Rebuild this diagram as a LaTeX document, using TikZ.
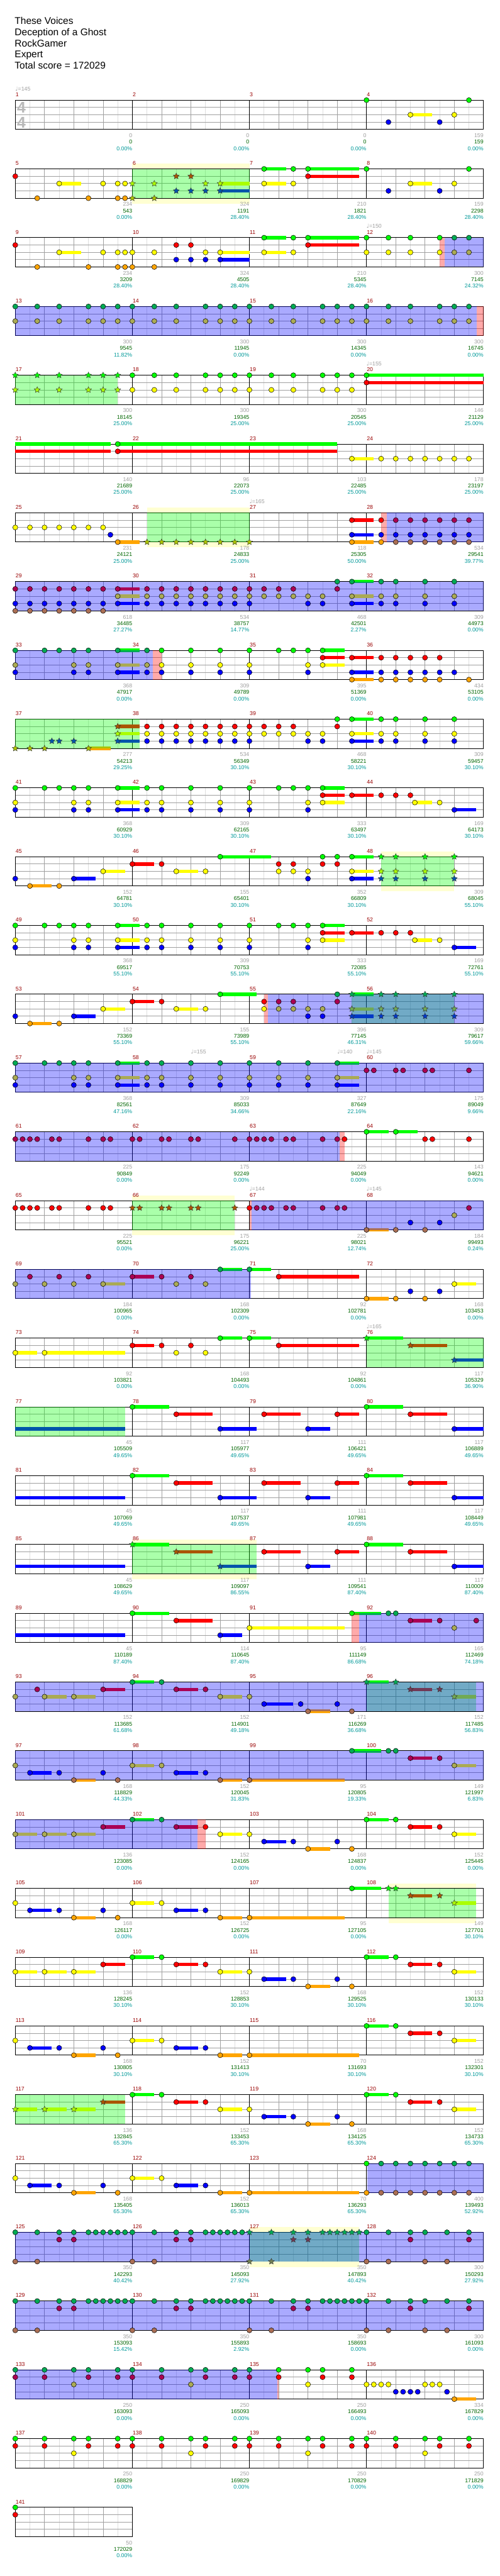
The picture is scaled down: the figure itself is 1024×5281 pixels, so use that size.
\documentclass[tikz,border=0pt]{standalone}
\usepackage{fontspec}
\setmainfont{Liberation Sans}
\newfontfamily\notefont{DejaVu Sans}
\usetikzlibrary{shapes.geometric}
\pgfdeclarelayer{zone}
\pgfdeclarelayer{front}
\pgfsetlayers{main,zone,front}

% lane colours: green, red, yellow, blue, orange
\definecolor{lc0}{RGB}{0,255,0}
\definecolor{lc1}{RGB}{255,0,0}
\definecolor{lc2}{RGB}{255,255,0}
\definecolor{lc3}{RGB}{0,0,255}
\definecolor{lc4}{RGB}{255,165,0}
\definecolor{phrasey}{RGB}{255,255,210}
\definecolor{gridgray}{RGB}{160,160,160}
\definecolor{gridlight}{RGB}{222,222,222}
\definecolor{mred}{RGB}{153,0,0}
\definecolor{numgray}{RGB}{160,160,160}
\definecolor{siggray}{RGB}{185,185,185}
\definecolor{scoregreen}{RGB}{0,102,0}
\definecolor{pctteal}{RGB}{0,153,153}

\tikzset{
  eighthline/.style={draw=gridlight, line width=0.75pt},
  beatline/.style={draw=gridgray, line width=0.75pt},
  laneline/.style={draw=gridgray, line width=0.75pt},
  barline/.style={draw=black, line width=0.75pt},
  frameline/.style={draw=black, line width=0.9pt},
  sustain/.style={line width=5.2pt},
  dotnote/.style={circle, draw=black, line width=0.5pt, inner sep=0pt, minimum size=7.8pt},
  starnote/.style={star, star points=5, star point ratio=2.1, draw=black!80, line width=0.45pt, inner sep=0pt, minimum size=9.6pt},
  smalltext/.style={font=\fontsize{8.5}{10}\selectfont, inner sep=0pt},
  mnum/.style={smalltext, text=mred, anchor=base west},
  gnum/.style={smalltext, text=numgray, anchor=base east},
  snum/.style={smalltext, text=scoregreen, anchor=base east},
  pnum/.style={smalltext, text=pctteal, anchor=base east},
  tempotext/.style={smalltext, text=numgray, anchor=base west},
  timesig/.style={font=\bfseries\fontsize{24}{24}\selectfont, text=siggray, inner sep=0pt},
  titletext/.style={font=\fontsize{15}{18}\selectfont, anchor=base west, inner sep=0pt}
}

% one staff of #1 measures, 15 units per sixteenth
\newcommand{\staffgrid}[1]{%
  \pgfmathtruncatemacro{\neig}{8*#1-1}%
  \pgfmathtruncatemacro{\nqua}{4*#1-1}%
  \foreach \i in {1,...,\neig} \draw[eighthline] (30*\i,0) -- (30*\i,60);
  \foreach \i in {1,...,\nqua} \draw[beatline] (60*\i,0) -- (60*\i,60);
  \foreach \j in {1,2,3} \draw[laneline] (0,15*\j) -- (240*#1,15*\j);
  \ifnum#1>1
    \pgfmathtruncatemacro{\nmea}{#1-1}%
    \foreach \i in {1,...,\nmea} \draw[barline] (240*\i,0) -- (240*\i,60);
  \fi
  \draw[frameline] (0,0) rectangle (240*#1,60);
}

% a note at sixteenth #1 on lane #2, tinted by the zones
\newcommand{\noteat}[2]{%
  \colorlet{nfill}{lc#2}%
  \pgfmathparse{(#1>=\gA)&&(#1<=\gB)}\let\instar\pgfmathresult
  \ifdim\instar pt>0.5pt \colorlet{nfill}{nfill!67!lc0}\fi
  \pgfmathparse{(#1>=\bA)&&(#1<=\bB)}%
  \ifdim\pgfmathresult pt>0.5pt \colorlet{nfill}{nfill!67!lc3}\fi
  \ifdim\instar pt>0.5pt
    \node[starnote, fill=nfill] at (15*#1,15*#2) {};
  \else
    \node[dotnote, fill=nfill] at (15*#1,15*#2) {};
  \fi
}
\newcommand{\lanenotes}[2]{\begin{pgfonlayer}{front}\foreach \np in {#2}{\noteat{\np}{#1}}\end{pgfonlayer}}
\newcommand{\sustains}[1]{\foreach \susp/\susl/\suse in {#1}{\draw[sustain, draw=lc\susl] (15*\susp,15*\susl) -- (15*\suse,15*\susl);}}
\newcommand{\starzone}[2]{\def\gA{#1}\def\gB{#2}\begin{pgfonlayer}{zone}\fill[lc0, opacity=0.333] (15*#1,0) rectangle (15*#2,60);\end{pgfonlayer}}
\newcommand{\actzone}[2]{\def\bA{#1}\def\bB{#2}\begin{pgfonlayer}{zone}\fill[lc3, opacity=0.333] (15*#1,0) rectangle (15*#2,60);\end{pgfonlayer}}
\newcommand{\pinkzone}[2]{\begin{pgfonlayer}{zone}\fill[lc1, opacity=0.333] (15*#1,0) rectangle (15*#2,60);\end{pgfonlayer}}
\newcommand{\phrasebg}[2]{\fill[phrasey] (15*#1,-10.5) rectangle (15*#2,-0.6); \fill[phrasey] (15*#1,60.6) rectangle (15*#2,71);}
\newcommand{\tempomark}[2]{\node[tempotext] at (15*#1,-19.6) {{\notefont ♩}=#2};}
\newcommand{\measuretexts}[1]{\foreach \mk/\mg/\ms/\mpct in {#1}{%
  \pgfmathtruncatemacro{\measno}{4*\rowidx+\mk+1}%
  \node[mnum] at (240*\mk+0.5,-7.6) {\measno};
  \node[gnum] at (240*\mk+240,76.4) {\mg};
  \node[snum] at (240*\mk+240,89.7) {\ms};
  \node[pnum] at (240*\mk+240,103) {\mpct\%};}}

\newenvironment{chartrow}[2]{%
  \begin{scope}[shift={(31.3,205.3+141*#1)}]%
  \def\rowidx{#1}%
  \def\gA{-99}\def\gB{-99}\def\bA{-99}\def\bB{-99}%
  \staffgrid{#2}}{\end{scope}}

\begin{document}
\begin{tikzpicture}[x=0.75pt, y=-0.75pt]
\fill[white] (0,0) rectangle (1024,5281);
\useasboundingbox (0,0) rectangle (1024,5281);

% Song header
\node[titletext] (songname) at (30,49.3) {These Voices};
\node[titletext] (bandname) at (30,72.4) {Deception of a Ghost};
\node[titletext] (chartername) at (30,95.5) {RockGamer};
\node[titletext] (difficulty) at (30,118.6) {Expert};
\node[titletext] (totalscore) at (30,141.7) {Total score = 172029};

% Measures 1-4
\begin{chartrow}{0}{4}
  \node[timesig] (sigtop) at (12.5,15.5) {4};
  \node[timesig] (sigbottom) at (12.5,45.5) {4};
  \sustains{54/2/57}
  \lanenotes{0}{48,62}
  \lanenotes{2}{54,60}
  \lanenotes{3}{51,58}
  \tempomark{0}{145}
  \measuretexts{0/0/0/0.00, 1/0/0/0.00, 2/0/0/0.00, 3/159/159/0.00}
\end{chartrow}

% Measures 5-8
\begin{chartrow}{1}{4}
  \phrasebg{16}{32}
  \starzone{16}{32}
  \sustains{6/2/9, 28/2/32, 28/3/32, 34/0/37, 40/0/47, 40/1/47, 34/2/37, 54/2/57}
  \lanenotes{0}{34,38,40,48,62}
  \lanenotes{1}{0,22,24,40}
  \lanenotes{2}{6,12,14,15,16,19,26,28,34,38,54,60}
  \lanenotes{3}{22,24,26,28,51,58}
  \lanenotes{4}{3,10,14,15,16,19}
  \measuretexts{0/234/543/0.00, 1/324/1191/28.40, 2/210/1821/28.40, 3/159/2298/28.40}
\end{chartrow}

% Measures 9-12
\begin{chartrow}{2}{4}
  \pinkzone{58}{58.7}
  \actzone{58.7}{64}
  \sustains{6/2/9, 28/2/32, 28/3/32, 34/0/37, 40/0/47, 40/1/47, 34/2/37}
  \lanenotes{0}{34,38,40,48,51,54,58,60,62}
  \lanenotes{1}{0,22,24,40}
  \lanenotes{2}{6,12,14,15,16,19,26,28,34,38,48,51,54,58,60,62}
  \lanenotes{3}{22,24,26,28}
  \lanenotes{4}{3,10,14,15,16,19}
  \tempomark{48}{150}
  \measuretexts{0/234/3209/28.40, 1/324/4505/28.40, 2/210/5345/28.40, 3/300/7145/24.32}
\end{chartrow}

% Measures 13-16
\begin{chartrow}{3}{4}
  \actzone{0}{63.1}
  \pinkzone{63.1}{64}
  \lanenotes{0}{0,3,6,10,12,14,16,19,22,26,28,30,32,35,38,42,44,46,48,51,54,58,60,62}
  \lanenotes{2}{0,3,6,10,12,14,16,19,22,26,28,30,32,35,38,42,44,46,48,51,54,58,60,62}
  \measuretexts{0/300/9545/11.82, 1/300/11945/0.00, 2/300/14345/0.00, 3/300/16745/0.00}
\end{chartrow}

% Measures 17-20
\begin{chartrow}{4}{4}
  \starzone{0}{14}
  \sustains{48/0/64, 48/1/64}
  \lanenotes{0}{0,3,6,10,12,14,16,19,22,26,28,30,32,35,38,42,44,46,48}
  \lanenotes{1}{48}
  \lanenotes{2}{0,3,6,10,12,14,16,19,22,26,28,30,32,35,38,42,44,46}
  \tempomark{48}{155}
  \measuretexts{0/300/18145/25.00, 1/300/19345/25.00, 2/300/20545/25.00, 3/146/21129/25.00}
\end{chartrow}

% Measures 21-24
\begin{chartrow}{5}{4}
  \sustains{0/0/13, 0/1/13, 14/0/44, 14/1/44, 46/2/49}
  \lanenotes{0}{14}
  \lanenotes{1}{14}
  \lanenotes{2}{46,50,52,54,56,58,60,62}
  \measuretexts{0/140/21689/25.00, 1/96/22073/25.00, 2/103/22485/25.00, 3/178/23197/25.00}
\end{chartrow}

% Measures 25-28
\begin{chartrow}{6}{4}
  \phrasebg{18}{32}
  \starzone{18}{32}
  \pinkzone{50}{50.8}
  \actzone{50.8}{64}
  \sustains{14/4/17, 46/1/49, 46/3/49, 46/4/49}
  \lanenotes{1}{46,50,52,54,56,58,60,62}
  \lanenotes{2}{0,2,4,6,8,10,12}
  \lanenotes{3}{13,46,50,52,54,56,58,60,62}
  \lanenotes{4}{14,18,20,22,24,26,28,30,32,46,50,52,54,56,58,60,62}
  \tempomark{32}{165}
  \measuretexts{0/231/24121/25.00, 1/178/24833/25.00, 2/118/25305/50.00, 3/534/29541/39.77}
\end{chartrow}

% Measures 29-32
\begin{chartrow}{7}{4}
  \actzone{0}{64}
  \sustains{14/1/17, 14/2/17, 14/3/17, 46/0/49, 46/2/49, 46/3/49}
  \lanenotes{0}{44,46,50,52,56,60}
  \lanenotes{1}{0,2,4,6,8,10,12,14,18,20,22,24,26,28,30,32,34,36,38,44}
  \lanenotes{2}{14,18,20,22,24,26,28,30,32,34,36,38,40,42,46,50,52,56,60}
  \lanenotes{3}{0,2,4,6,8,10,12,14,18,20,22,24,26,28,30,32,40,42,46,50,52,56,60}
  \lanenotes{4}{0,2,4,6,8,10,12}
  \measuretexts{0/618/34485/27.27, 1/534/38757/14.77, 2/468/42501/2.27, 3/309/44973/0.00}
\end{chartrow}

% Measures 33-36
\begin{chartrow}{8}{4}
  \actzone{0}{18.8}
  \pinkzone{18.8}{20}
  \sustains{14/0/17, 14/2/17, 14/3/17, 42/0/45, 42/1/45, 42/2/45, 46/1/49, 46/3/49, 46/4/49}
  \lanenotes{0}{0,4,6,8,10,14,18,20,24,28,32,36,38,40,42}
  \lanenotes{1}{42,46,50,52,54,56,58}
  \lanenotes{2}{0,8,10,14,18,20,24,28,32,40,42}
  \lanenotes{3}{0,8,10,14,18,20,24,28,32,40,46,50,52,54,56,58,60}
  \lanenotes{4}{46,50,52,54,56,58,62}
  \measuretexts{0/368/47917/0.00, 1/309/49789/0.00, 2/395/51369/0.00, 3/434/53105/0.00}
\end{chartrow}

% Measures 37-40
\begin{chartrow}{9}{4}
  \starzone{0}{17}
  \sustains{10/4/13, 14/1/17, 14/2/17, 14/3/17, 46/0/49, 46/2/49, 46/3/49}
  \lanenotes{0}{44,46,50,52,56,60}
  \lanenotes{1}{14,18,20,22,24,26,28,30,32,34,36,38,44}
  \lanenotes{2}{14,18,20,22,24,26,28,30,32,34,36,38,40,42,46,50,52,56,60}
  \lanenotes{3}{5,6,8,14,18,20,22,24,26,28,30,32,40,42,46,50,52,56,60}
  \lanenotes{4}{0,2,4,10}
  \measuretexts{0/277/54213/29.25, 1/534/56349/30.10, 2/468/58221/30.10, 3/309/59457/30.10}
\end{chartrow}

% Measures 41-44
\begin{chartrow}{10}{4}
  \sustains{14/0/17, 14/2/17, 14/3/17, 42/0/45, 42/1/45, 42/2/45, 46/1/49, 54.6/2/57, 60/3/63}
  \lanenotes{0}{0,4,6,8,10,14,18,20,24,28,32,36,38,40,42}
  \lanenotes{1}{42,46,50,52,54}
  \lanenotes{2}{0,8,10,14,18,20,24,28,32,40,42,54.6,58}
  \lanenotes{3}{0,8,10,14,18,20,24,28,32,40,60}
  \measuretexts{0/368/60929/30.10, 1/309/62165/30.10, 2/333/63497/30.10, 3/169/64173/30.10}
\end{chartrow}

% Measures 45-48
\begin{chartrow}{11}{4}
  \phrasebg{50}{60}
  \starzone{50}{60}
  \sustains{28/0/35, 46/0/49, 16/1/19, 12/2/15, 22/2/25, 46/2/49, 8/3/11, 46/3/49, 2/4/5}
  \lanenotes{0}{28,42,44,46,50,52,56,60}
  \lanenotes{1}{16,20,36,38,42,44}
  \lanenotes{2}{12,22,26,36,38,40,46,50,52,56,60}
  \lanenotes{3}{0,8,40,46,50,52,56,60}
  \lanenotes{4}{2,6}
  \measuretexts{0/152/64781/30.10, 1/155/65401/30.10, 2/352/66809/30.10, 3/309/68045/55.10}
\end{chartrow}

% Measures 49-52
\begin{chartrow}{12}{4}
  \sustains{14/0/17, 14/2/17, 14/3/17, 42/0/45, 42/1/45, 42/2/45, 46/1/49, 54.6/2/57, 60/3/63}
  \lanenotes{0}{0,4,6,8,10,14,18,20,24,28,32,36,38,40,42}
  \lanenotes{1}{42,46,50,52,54}
  \lanenotes{2}{0,8,10,14,18,20,24,28,32,40,42,54.6,58}
  \lanenotes{3}{0,8,10,14,18,20,24,28,32,40,60}
  \measuretexts{0/368/69517/55.10, 1/309/70753/55.10, 2/333/72085/55.10, 3/169/72761/55.10}
\end{chartrow}

% Measures 53-56
\begin{chartrow}{13}{4}
  \pinkzone{34}{34.5}
  \starzone{46}{60}
  \actzone{34.5}{64}
  \sustains{28/0/33, 46/0/49, 16/1/19, 12/2/15, 22/2/25, 46/2/49, 8/3/11, 46/3/49, 2/4/5}
  \lanenotes{0}{28,44,46,50,52,56,60}
  \lanenotes{1}{16,20,34,36,38,44}
  \lanenotes{2}{12,22,26,34,36,38,40,42,46,50,52,56,60}
  \lanenotes{3}{0,8,40,42,46,50,52,56,60}
  \lanenotes{4}{2,6}
  \measuretexts{0/152/73369/55.10, 1/155/73989/55.10, 2/396/77145/46.31, 3/309/79617/59.66}
\end{chartrow}

% Measures 57-60
\begin{chartrow}{14}{4}
  \actzone{0}{64}
  \sustains{14/0/17, 14/2/17, 14/3/17, 44/0/47, 44/2/47, 44/3/47}
  \lanenotes{0}{0,4,6,8,10,14,18,20,24,28,32,36,40,44}
  \lanenotes{1}{48,49,52,53,56,57,62}
  \lanenotes{2}{0,8,10,14,18,20,24,28,32,36,40,44}
  \lanenotes{3}{0,8,10,14,18,20,24,28,32,36,40,44}
  \tempomark{24}{155}
  \tempomark{44}{140}
  \tempomark{48}{145}
  \measuretexts{0/368/82561/47.16, 1/309/85033/34.66, 2/327/87649/22.16, 3/175/89049/9.66}
\end{chartrow}

% Measures 61-64
\begin{chartrow}{15}{4}
  \actzone{0}{44.3}
  \pinkzone{44.3}{45}
  \sustains{48/0/51, 52/0/55}
  \lanenotes{0}{48,52}
  \lanenotes{1}{0,1,2,3,5,6,10,12,13,16,17,20,21,24,25,30,32,33,34,35,37,38,42,44,45,56,57,62}
  \measuretexts{0/225/90849/0.00, 1/175/92249/0.00, 2/225/94049/0.00, 3/143/94621/0.00}
\end{chartrow}

% Measures 65-68
\begin{chartrow}{16}{4}
  \phrasebg{16}{30}
  \starzone{16}{30}
  \pinkzone{32}{32.3}
  \actzone{32.3}{64}
  \sustains{48/4/51}
  \lanenotes{1}{0,1,2,3,5,6,10,12,13,16,17,20,21,24,25,30,32,33,34,35,37,38,42,44,45,62}
  \lanenotes{2}{60}
  \lanenotes{3}{54,58}
  \lanenotes{4}{48,52,56}
  \tempomark{32}{144}
  \tempomark{48}{145}
  \measuretexts{0/225/95521/0.00, 1/175/96221/25.00, 2/225/98021/12.74, 3/184/99493/0.24}
\end{chartrow}

% Measures 69-72
\begin{chartrow}{17}{4}
  \actzone{0}{32.2}
  \sustains{28/0/31, 32/0/35, 16/1/19, 36/1/47, 12/2/15, 60/2/63, 48/4/51}
  \lanenotes{0}{28,32}
  \lanenotes{1}{2,6,10,16,20,24,36}
  \lanenotes{2}{0,4,8,12,22,26,60}
  \lanenotes{3}{54,58}
  \lanenotes{4}{48,52,56}
  \measuretexts{0/184/100965/0.00, 1/168/102309/0.00, 2/92/102781/0.00, 3/168/103453/0.00}
\end{chartrow}

% Measures 73-76
\begin{chartrow}{18}{4}
  \starzone{48}{64}
  \sustains{28/0/31, 32/0/35, 48/0/53, 16/1/19, 36/1/47, 54/1/59, 0/2/3, 4/2/15, 60/3/64}
  \lanenotes{0}{28,32,48}
  \lanenotes{1}{16,20,24,36,54}
  \lanenotes{2}{0,4,22,26}
  \lanenotes{3}{60}
  \tempomark{48}{165}
  \measuretexts{0/92/103821/0.00, 1/168/104493/0.00, 2/92/104861/0.00, 3/117/105329/36.90}
\end{chartrow}

% Measures 77-80
\begin{chartrow}{19}{4}
  \starzone{0}{15}
  \sustains{0/3/15, 16/0/21, 22/1/27, 28/3/33, 34/1/39, 40/3/43, 44/1/47, 48/0/53, 54/1/59, 60/3/64}
  \lanenotes{0}{16,48}
  \lanenotes{1}{22,34,44,54}
  \lanenotes{3}{28,40,60}
  \measuretexts{0/45/105509/49.65, 1/117/105977/49.65, 2/111/106421/49.65, 3/117/106889/49.65}
\end{chartrow}

% Measures 81-84
\begin{chartrow}{20}{4}
  \sustains{0/3/15, 16/0/21, 22/1/27, 28/3/33, 34/1/39, 40/3/43, 44/1/47, 48/0/53, 54/1/59, 60/3/64}
  \lanenotes{0}{16,48}
  \lanenotes{1}{22,34,44,54}
  \lanenotes{3}{28,40,60}
  \measuretexts{0/45/107069/49.65, 1/117/107537/49.65, 2/111/107981/49.65, 3/117/108449/49.65}
\end{chartrow}

% Measures 85-88
\begin{chartrow}{21}{4}
  \phrasebg{16}{33}
  \starzone{16}{33}
  \sustains{0/3/15, 16/0/21, 22/1/27, 28/3/33, 34/1/39, 40/3/43, 44/1/47, 48/0/53, 54/1/59, 60/3/64}
  \lanenotes{0}{16,48}
  \lanenotes{1}{22,34,44,54}
  \lanenotes{3}{28,40,60}
  \measuretexts{0/45/108629/49.65, 1/117/109097/86.55, 2/111/109541/87.40, 3/117/110009/87.40}
\end{chartrow}

% Measures 89-92
\begin{chartrow}{22}{4}
  \pinkzone{46}{47}
  \actzone{47}{64}
  \sustains{0/3/15, 16/0/21, 22/1/27, 28/3/31, 32/2/45, 46/0/50, 54/1/57}
  \lanenotes{0}{16,46,51,52}
  \lanenotes{1}{22,54,58,63}
  \lanenotes{2}{32,60}
  \lanenotes{3}{28}
  \measuretexts{0/45/110189/87.40, 1/114/110645/87.40, 2/95/111149/86.68, 3/165/112469/74.18}
\end{chartrow}

% Measures 93-96
\begin{chartrow}{23}{4}
  \starzone{48}{63}
  \actzone{0}{64}
  \sustains{16/0/19, 48/0/51, 12/1/15, 22/1/25, 54/1/57, 4/2/7, 8/2/11, 28/2/31, 60/2/63, 34/3/38, 40/4/43}
  \lanenotes{0}{16,20,48,52}
  \lanenotes{1}{3,12,22,26,54,58}
  \lanenotes{2}{0,4,8,28,32,60}
  \lanenotes{3}{34,39,44}
  \lanenotes{4}{40,46}
  \measuretexts{0/152/113685/61.68, 1/152/114901/49.18, 2/171/116269/36.68, 3/152/117485/56.83}
\end{chartrow}

% Measures 97-100
\begin{chartrow}{24}{4}
  \actzone{0}{64}
  \sustains{46/0/50, 54/1/57, 16/2/19, 60/2/63, 2/3/5, 22/3/25, 8/4/11, 28/4/31, 32/4/45}
  \lanenotes{0}{46,51,52}
  \lanenotes{1}{54,58}
  \lanenotes{2}{0,16,20,60}
  \lanenotes{3}{2,6,12,22,26}
  \lanenotes{4}{8,14,28,32}
  \measuretexts{0/168/118829/44.33, 1/152/120045/31.83, 2/95/120805/19.33, 3/149/121997/6.83}
\end{chartrow}

% Measures 101-104
\begin{chartrow}{25}{4}
  \actzone{0}{24.9}
  \pinkzone{24.9}{26}
  \sustains{16/0/19, 48/0/51, 12/1/15, 22/1/25, 54/1/57, 0/2/3, 4/2/7, 8/2/11, 28/2/31, 60/2/63, 34/3/37, 40/4/43}
  \lanenotes{0}{16,20,48,52}
  \lanenotes{1}{12,22,26,54,58}
  \lanenotes{2}{0,4,8,28,32,60}
  \lanenotes{3}{34,38,44}
  \lanenotes{4}{40,46}
  \measuretexts{0/136/123085/0.00, 1/152/124165/0.00, 2/168/124837/0.00, 3/152/125445/0.00}
\end{chartrow}

% Measures 105-108
\begin{chartrow}{26}{4}
  \phrasebg{51}{63}
  \starzone{51}{63}
  \sustains{46/0/50, 54/1/57, 16/2/19, 60/2/63, 2/3/5, 22/3/25, 8/4/11, 28/4/31, 32/4/45}
  \lanenotes{0}{46,51,52}
  \lanenotes{1}{54,58}
  \lanenotes{2}{0,16,20,60}
  \lanenotes{3}{2,6,12,22,26}
  \lanenotes{4}{8,14,28,32}
  \measuretexts{0/168/126117/0.00, 1/152/126725/0.00, 2/95/127105/0.00, 3/149/127701/30.10}
\end{chartrow}

% Measures 109-112
\begin{chartrow}{27}{4}
  \sustains{16/0/19, 48/0/51, 12/1/15, 22/1/25, 54/1/57, 0/2/3, 4/2/7, 8/2/11, 28/2/31, 60/2/63, 34/3/37, 40/4/43}
  \lanenotes{0}{16,20,48,52}
  \lanenotes{1}{12,22,26,54,58}
  \lanenotes{2}{0,4,8,28,32,60}
  \lanenotes{3}{34,38,44}
  \lanenotes{4}{40,46}
  \measuretexts{0/136/128245/30.10, 1/152/128853/30.10, 2/168/129525/30.10, 3/152/130133/30.10}
\end{chartrow}

% Measures 113-116
\begin{chartrow}{28}{4}
  \sustains{48/0/51, 54/1/57, 16/2/19, 60/2/63, 2/3/5, 22/3/25, 8/4/11, 28/4/31, 32/4/47}
  \lanenotes{0}{48,52}
  \lanenotes{1}{54,58}
  \lanenotes{2}{0,16,20,60}
  \lanenotes{3}{2,6,12,22,26}
  \lanenotes{4}{8,14,28,32}
  \measuretexts{0/168/130805/30.10, 1/152/131413/30.10, 2/70/131693/30.10, 3/152/132301/30.10}
\end{chartrow}

% Measures 117-120
\begin{chartrow}{29}{4}
  \starzone{0}{15}
  \sustains{16/0/19, 48/0/51, 12/1/15, 22/1/25, 54/1/57, 0/2/3, 4/2/7, 8/2/11, 28/2/31, 60/2/63, 34/3/37, 40/4/43}
  \lanenotes{0}{16,20,48,52}
  \lanenotes{1}{12,22,26,54,58}
  \lanenotes{2}{0,4,8,28,32,60}
  \lanenotes{3}{34,38,44}
  \lanenotes{4}{40,46}
  \measuretexts{0/136/132845/65.30, 1/152/133453/65.30, 2/168/134125/65.30, 3/152/134733/65.30}
\end{chartrow}

% Measures 121-124
\begin{chartrow}{30}{4}
  \actzone{48.15}{64}
  \sustains{16/2/19, 2/3/5, 22/3/25, 8/4/11, 28/4/31, 32/4/47}
  \lanenotes{0}{48,50,52,54,56,58,60,62}
  \lanenotes{2}{0,16,20}
  \lanenotes{3}{2,6,12,22,26}
  \lanenotes{4}{8,14,28,32,48,50,52,54,56,58,60,62}
  \measuretexts{0/168/135405/65.30, 1/152/136013/65.30, 2/70/136293/65.30, 3/400/139493/52.92}
\end{chartrow}

% Measures 125-128
\begin{chartrow}{31}{4}
  \phrasebg{32}{47}
  \starzone{32}{47}
  \actzone{0}{64}
  \lanenotes{0}{0,3,6,8,10,11,12,13,14,15,16,19,22,24,26,27,28,29,30,31,32,35,38,40,42,43,44,45,46,47,48,51,54,56,59,62}
  \lanenotes{1}{6,8,22,24,38,40,54,62}
  \lanenotes{4}{0,3,16,19,32,35,48,51,56,59}
  \measuretexts{0/350/142293/40.42, 1/350/145093/27.92, 2/350/147893/40.42, 3/300/150293/27.92}
\end{chartrow}

% Measures 129-132
\begin{chartrow}{32}{4}
  \actzone{0}{64}
  \lanenotes{0}{0,3,6,8,10,11,12,13,14,15,16,19,22,24,26,27,28,29,30,31,32,35,38,40,42,43,44,45,46,47,48,51,54,56,59,62}
  \lanenotes{1}{6,8,22,24,38,40,54,62}
  \lanenotes{4}{0,3,16,19,32,35,48,51,56,59}
  \measuretexts{0/350/153093/15.42, 1/350/155893/2.92, 2/350/158693/0.00, 3/300/161093/0.00}
\end{chartrow}

% Measures 133-136
\begin{chartrow}{33}{4}
  \actzone{0}{35.8}
  \pinkzone{35.8}{36}
  \sustains{60/4/63}
  \lanenotes{0}{0,4,8,10,14,16,20,24,26,30,32,36,40,42,46}
  \lanenotes{1}{0,4,10,14,16,20,26,30,32,36,42,46}
  \lanenotes{2}{8,24,40,48,49,50,51,56,57,58}
  \lanenotes{3}{52,53,54,55,59}
  \lanenotes{4}{60}
  \measuretexts{0/250/163093/0.00, 1/250/165093/0.00, 2/250/166493/0.00, 3/334/167829/0.00}
\end{chartrow}

% Measures 137-140
\begin{chartrow}{34}{4}
  \lanenotes{0}{0,4,8,10,14,16,20,24,26,30,32,36,40,42,46,48,52,56,58,62}
  \lanenotes{1}{0,4,10,14,16,20,26,30,32,36,42,46,48,52,58,62}
  \lanenotes{2}{8,24,40,56}
  \measuretexts{0/250/168829/0.00, 1/250/169829/0.00, 2/250/170829/0.00, 3/250/171829/0.00}
\end{chartrow}

% Measure 141
\begin{chartrow}{35}{1}
  \lanenotes{0}{0}
  \lanenotes{1}{0}
  \measuretexts{0/50/172029/0.00}
\end{chartrow}

\end{tikzpicture}
\end{document}
